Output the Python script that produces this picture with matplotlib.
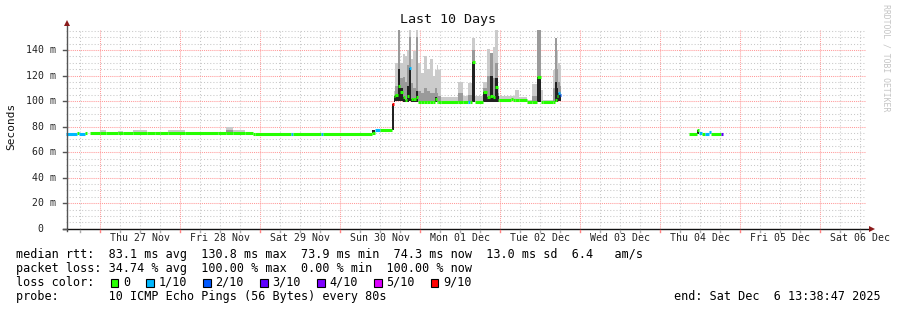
import numpy as np
import matplotlib
matplotlib.use("Agg")
import matplotlib.pyplot as plt
from matplotlib.collections import LineCollection
from matplotlib.patches import Rectangle
from matplotlib.lines import Line2D

# sample start times, hours after Thu 27 Nov 00:00 (last entry = graph end)
t_hours = [-10.35, -6.9, -6.3, -4.5, -3.9, -3.0, 0.0, 1.8, 5.4, 6.9,
           9.9, 14.1, 16.5, 18.0, 20.4, 25.5, 35.4, 37.8, 39.9, 43.5,
           45.9, 46.5, 57.3, 57.9, 66.3, 66.9, 81.6, 82.5, 84.0, 87.6,
           88.05, 88.5, 89.25, 90.0, 90.9, 91.5, 92.1, 92.7, 93.15, 93.9,
           94.7, 95.3, 96.3, 97.2, 98.1, 99.0, 99.9, 100.35, 100.95, 101.4,
           102.3, 107.4, 108.9, 110.4, 111.0, 111.6, 112.5, 114.9, 116.1, 117.0,
           117.9, 118.5, 119.25, 119.7, 123.3, 123.9, 124.5, 125.7, 128.1, 129.6,
           131.1, 132.15, 132.9, 135.9, 136.5, 137.1, 137.4, 137.85, 138.3, 176.7,
           179.1, 179.7, 180.6, 181.5, 182.7, 183.3, 186.3, 186.9, 229.65]
nan = float("nan")
# median rtt in ms
median_ms = [74.4, 74.6, 74.4, 74.6, nan, 74.8, 74.8, 74.8, 74.8, 74.8,
             74.8, 74.8, 74.8, 74.8, 74.8, 74.8, 74.8, 74.8, 74.8, 74.8,
             74.3, 73.9, 73.9, 73.9, 73.9, 73.9, 75.3, 77.2, 77.2, 97.5,
             104, 105, 112, 107, 103, 100.5, 104, 125.7, 102, 102,
             103.4, 99.5, 99.5, 99.5, 99.5, 99.5, 99.5, 102, 99.5, 99.5,
             99.5, 99.5, 99.5, 99.5, 99.5, 130.8, 99.5, 107, 103, 104,
             103, 111, 101, 100.8, 102, 100.8, 100.8, 100.8, 99.0, 99.0,
             119, 99.5, 99.5, 99.5, 101, 104, 106, 105, nan, 74.0,
             77.2, 75.0, 74.0, 74.0, 75.5, 74.0, 74.0, nan]
# lost pings out of 10
loss_pings = [1, 0, 1, 0, 0, 0, 0, 0, 0, 0,
              0, 0, 0, 0, 0, 0, 0, 0, 0, 0,
              0, 0, 1, 0, 1, 0, 0, 1, 0, 9,
              0, 0, 0, 0, 0, 0, 0, 1, 0, 0,
              0, 0, 0, 0, 0, 0, 0, 0, 0, 0,
              0, 0, 0, 1, 0, 0, 0, 0, 0, 0,
              0, 0, 0, 0, 0, 0, 0, 0, 0, 0,
              0, 0, 0, 0, 0, 0, 1, 2, 0, 0,
              0, 1, 0, 1, 1, 0, 3, 0]
N = None  # no smoke beyond the median
smoke_lo = [N, N, N, N, N, N, N, N, N, N,
            N, N, N, N, N, N, N, N, N, N,
            N, N, N, N, N, N, 74.6, N, N, 77.2,
            99, 100, 100, 100, 99, 99, 99, 100, 99, 99,
            99, 99, N, N, N, N, N, 99.5, N, N,
            N, N, N, N, N, 99.5, N, 99.5, 99.5, 99.5,
            99.5, 99.5, 99.5, N, N, N, N, N, N, N,
            99, N, N, N, 99.5, 99.5, 100, 100, N, N,
            74.0, N, N, N, N, N, N, N]
smoke_hi = [N, N, N, N, N, N, 77.5, N, 76.5, N,
            77.0, N, 76.0, N, 77.0, N, 76.0, 79.5, 77.0, N,
            N, N, N, N, N, N, N, N, N, N,
            108, 130, 156, 130, 137, 135, 140, 156, 133, 139,
            156, 130, 122, 135, 125, 133, 120, 124, 128, 124,
            103, 115, 104, 114, 114, 149.5, 104, 115, 141, 138,
            142, 156, 110, 104, 104, 104, 109, 103, 101, 113,
            156, 109, 101, 124, 149.5, 140, 130, 128, N, N,
            N, N, N, N, N, N, N, N]
smoke_mid = [N, N, N, N, N, N, N, N, N, N,
             N, N, N, N, N, N, N, 77.0, N, N,
             N, N, N, N, N, N, N, N, N, N,
             104, 112, 156, 118, 119, 115, 128, 150, 114, 110,
             150, 108, 106, 110, 108, 106, 106, 110, 106, 104,
             N, 106, N, 105, 105, 140, N, 110, 120, 138,
             118, 130, 106, N, N, N, N, N, N, 104,
             156, N, N, 110, 149.5, 125, 115, 112, N, N,
             N, N, N, N, N, N, N, N]
smoke_dark = [N, N, N, N, N, N, N, N, N, N,
              N, N, N, N, N, N, N, N, N, N,
              N, N, N, N, N, N, 77.2, N, N, 97.5,
              N, N, 125, 110, N, N, 112, 125.7, N, N,
              108, N, N, N, N, N, N, 103, N, N,
              N, N, N, N, N, 130.8, N, 107, N, 120,
              N, 118, 104, N, N, N, N, N, N, N,
              119, N, N, N, 115, 110, N, N, N, N,
              77.2, N, N, N, N, N, N, N]

loss_colors = {0: "#26ff00", 1: "#00b8ff", 2: "#0059ff", 3: "#5e00ff",
               4: "#7e00ff", 5: "#dd00ff", 9: "#ff0000"}
loss_labels = ["0", "1/10", "2/10", "3/10", "4/10", "5/10", "9/10"]
day_labels = ["Thu 27 Nov", "Fri 28 Nov", "Sat 29 Nov", "Sun 30 Nov", "Mon 01 Dec",
              "Tue 02 Dec", "Wed 03 Dec", "Thu 04 Dec", "Fri 05 Dec", "Sat 06 Dec"]
stats_lines = [
    "median rtt:  83.1 ms avg  130.8 ms max  73.9 ms min  74.3 ms now  13.0 ms sd  6.4   am/s",
    "packet loss: 34.74 % avg  100.00 % max  0.00 % min  100.00 % now",
]
probe_line = "probe:       10 ICMP Echo Pings (56 Bytes) every 80s"
end_line = "end: Sat Dec  6 13:38:47 2025"

MONO = "DejaVu Sans Mono"
W, H = 897, 310


def fx(x):
    return x / W


def fy(y):
    return 1 - y / H


fig = plt.figure(figsize=(W / 100, H / 100), dpi=100)
fig.patch.set_facecolor("white")
ax = fig.add_axes([fx(65.5), fy(228.7), 800 / W, 200 / H])
ax.set_xlim(t_hours[0], t_hours[-1])
ax.set_ylim(0, 156.7)
for s in ax.spines.values():
    s.set_visible(False)

# grid
ax.set_xticks(np.arange(0, 230, 24))
ax.set_xticks(np.arange(-6, 230, 6), minor=True)
ax.set_yticks(np.arange(0, 157, 20))
ax.set_yticks(np.arange(0, 157, 5), minor=True)
ax.grid(which="minor", color="#c8c8c8", lw=0.75, ls=(0, (1, 2)))
ax.grid(which="major", color="#ff9a9a", lw=0.75, ls=(0, (1, 1)))
ax.set_axisbelow(True)
ax.tick_params(which="both", labelbottom=False, labelleft=False, length=0)

# smoke
n = len(median_ms)
med = np.array(median_ms, dtype=float)
widths = np.diff(t_hours)


def fill(arr):
    return np.array([med[i] if arr[i] is None else arr[i] for i in range(n)], dtype=float)


lo = fill(smoke_lo)
for arr, col in [(smoke_hi, "#cbcbcb"), (smoke_mid, "#9a9a9a"), (smoke_dark, "#222222")]:
    top = fill(arr)
    ok = np.isfinite(med) & (top > lo + 0.01)
    ax.bar(np.array(t_hours[:-1])[ok], (top - lo)[ok], bottom=lo[ok], width=widths[ok],
           align="edge", color=col, lw=0, zorder=2)

# median line coloured by loss (no risers, like smokeping)
segs, cols = [], []
for i in range(n):
    if not np.isfinite(med[i]):
        continue
    segs.append([(t_hours[i], med[i]), (t_hours[i + 1], med[i])])
    cols.append(loss_colors[loss_pings[i]])
ax.add_collection(LineCollection(segs, colors=cols, linewidths=2.2, zorder=3,
                                 capstyle="butt"))

# y tick labels
for v in range(0, 141, 20):
    lab = "0  " if v == 0 else f"{v} m"
    ax.text(-0.012, v, lab, transform=ax.get_yaxis_transform(), ha="right", va="center",
            fontsize=7.1, family=MONO, color="#222222")
# x tick labels at noon
for k, lab in enumerate(day_labels):
    ax.text(12 + 24 * k, fy(238), lab, transform=matplotlib.transforms.blended_transform_factory(
        ax.transData, fig.transFigure), ha="center", va="center", fontsize=7.1, family=MONO,
        color="#222222")

# axes lines, ticks and arrows
fig.add_artist(Line2D([fx(66.5), fx(66.5)], [fy(231), fy(25)], color="#555555", lw=1))
fig.add_artist(Line2D([fx(63), fx(870)], [fy(228.7), fy(228.7)], color="#111111", lw=1))
fig.add_artist(Line2D([fx(66.5)], [fy(23)], marker="^", ms=4.5, color="#8b1a1a", mew=0))
fig.add_artist(Line2D([fx(871.5)], [fy(228.7)], marker=">", ms=4.5, color="#8b1a1a", mew=0))
for v in range(0, 141, 20):
    yy = 228.7 - v * 200 / 156.7
    fig.add_artist(Line2D([fx(63), fx(66.5)], [fy(yy), fy(yy)], color="#555555", lw=1))
for hh in range(-6, 230, 6):
    xx = 65.5 + (hh - t_hours[0]) * 800 / 240
    c = "#ff8080" if hh % 24 == 0 else "#aaaaaa"
    fig.add_artist(Line2D([fx(xx), fx(xx)], [fy(229.5), fy(232)], color=c, lw=1))

# title, axis label, watermark
fig.text(fx(448), fy(19), "Last 10 Days", ha="center", va="center", fontsize=9.6,
         family=MONO, color="#111111")
fig.text(fx(11), fy(126), "Seconds", rotation=90, ha="center", va="center", fontsize=8,
         family=MONO, color="#111111")
fig.text(fx(886), fy(4), "RRDTOOL / TOBI OETIKER", rotation=270, ha="center", va="top",
         fontsize=5.9, family=MONO, color="#c4c4c4")

# legend / stats
cw = 7.12
fig.text(fx(16), fy(254.3), stats_lines[0], ha="left", va="center", fontsize=8.5, family=MONO)
fig.text(fx(16), fy(268.3), stats_lines[1], ha="left", va="center", fontsize=8.5, family=MONO)
fig.text(fx(16), fy(282.3), "loss color:", ha="left", va="center", fontsize=8.5, family=MONO)
col = 13
for key, lab in zip([0, 1, 2, 3, 4, 5, 9], loss_labels):
    x0 = 16 + col * cw + 2
    fig.add_artist(Rectangle((fx(x0), fy(286.8)), 7.5 / W, 7.5 / H, transform=fig.transFigure,
                             facecolor=loss_colors[key], edgecolor="black", lw=0.8))
    fig.text(fx(16 + (col + 2) * cw), fy(282.3), lab, ha="left", va="center", fontsize=8.5,
             family=MONO)
    col = col + 2 + len(lab) + 2
fig.text(fx(16), fy(296.3), probe_line, ha="left", va="center", fontsize=8.5, family=MONO)
fig.text(fx(881), fy(296.3), end_line, ha="right", va="center", fontsize=8.5, family=MONO)

fig.savefig("out.png", dpi=100)
